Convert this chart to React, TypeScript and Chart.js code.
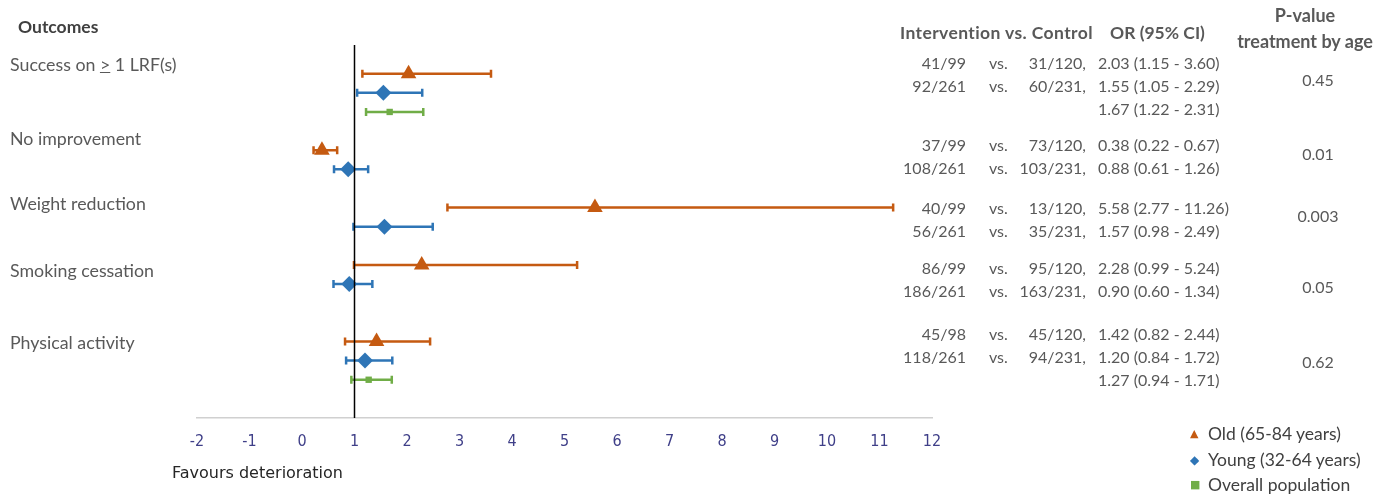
import React, { useEffect, useRef } from "react";
import { Chart, registerables } from "chart.js";

Chart.register(...registerables);

// ---------- data ----------
const outcomes = ["Success on ≥ 1 LRF(s)", "No improvement", "Weight reduction", "Smoking cessation", "Physical activity"];
const seriesNames = ["Old (65-84 years)", "Young (32-64 years)", "Overall population"];

const oldOR = [2.03, 0.38, 5.58, 2.28, 1.42];
const oldLo = [1.15, 0.22, 2.77, 0.99, 0.82];
const oldHi = [3.6, 0.67, 11.26, 5.24, 2.44];
const oldRow = [0, 4, 7, 10, 14];

const youngOR = [1.55, 0.88, 1.57, 0.9, 1.2];
const youngLo = [1.05, 0.61, 0.98, 0.6, 0.84];
const youngHi = [2.29, 1.26, 2.49, 1.34, 1.72];
const youngRow = [1, 5, 8, 11, 15];

const overallOR = [1.67, 1.27];
const overallLo = [1.22, 0.94];
const overallHi = [2.31, 1.71];
const overallRow = [2, 16];
const overallOutcome = [0, 4];

const intervOld = ["41/99", "37/99", "40/99", "86/99", "45/98"];
const ctrlOld = ["31/120", "73/120", "13/120", "95/120", "45/120"];
const intervYoung = ["92/261", "108/261", "56/261", "186/261", "118/261"];
const ctrlYoung = ["60/231", "103/231", "35/231", "163/231", "94/231"];
const pValues = ["0.45", "0.01", "0.003", "0.05", "0.62"];

const xTickMin = -2;
const xTickMax = 12;
const referenceLine = 1;

// ---------- styles ----------
const ORANGE = "#C55A11";
const BLUE = "#2E75B6";
const GREEN = "#70AD47";
const TEXT = "#595959";
const FONT = "Lato, 'Open Sans', sans-serif";
const TICKFONT = "'DejaVu Sans Condensed', 'DejaVu Sans', sans-serif";

const fmt = (v: number) => v.toFixed(2);
const orText = (o: number, l: number, h: number) => `${fmt(o)} (${fmt(l)} - ${fmt(h)})`;

const errorBarPlugin = {
  id: "errorBars",
  beforeDatasetsDraw(chart: any) {
    const ctx = chart.ctx;
    const xs = chart.scales.x;
    const ys = chart.scales.y;
    chart.data.datasets.forEach((ds: any) => {
      ctx.save();
      ctx.strokeStyle = ds.borderColor;
      ctx.lineWidth = 2.5;
      ds.data.forEach((p: any) => {
        const y = ys.getPixelForValue(p.y);
        const x1 = xs.getPixelForValue(p.lo);
        const x2 = xs.getPixelForValue(p.hi);
        ctx.beginPath();
        ctx.moveTo(x1, y);
        ctx.lineTo(x2, y);
        ctx.moveTo(x1, y - 4);
        ctx.lineTo(x1, y + 4);
        ctx.moveTo(x2, y - 4);
        ctx.lineTo(x2, y + 4);
        ctx.stroke();
      });
      ctx.restore();
    });
  },
  afterDatasetsDraw(chart: any) {
    const ctx = chart.ctx;
    const xs = chart.scales.x;
    const { top, bottom } = chart.chartArea;
    const x = xs.getPixelForValue(referenceLine);
    ctx.save();
    ctx.strokeStyle = "#000";
    ctx.lineWidth = 1.5;
    ctx.beginPath();
    ctx.moveTo(x, top);
    ctx.lineTo(x, bottom);
    ctx.stroke();
    ctx.restore();
  },
};

const abs = (left: number, cy: number, extra: React.CSSProperties = {}): React.CSSProperties => ({
  position: "absolute",
  left,
  top: cy - 12,
  height: 24,
  lineHeight: "24px",
  whiteSpace: "nowrap",
  fontFamily: FONT,
  color: TEXT,
  fontSize: 16,
  ...extra,
});

export default function App() {
  const ref = useRef<HTMLCanvasElement>(null);

  useEffect(() => {
    if (!ref.current) return;
    const mk = (or: number[], lo: number[], hi: number[], row: number[]) =>
      or.map((v, i) => ({ x: v, y: row[i], lo: lo[i], hi: hi[i] }));
    const chart = new Chart(ref.current, {
      type: "scatter",
      data: {
        datasets: [
          {
            label: seriesNames[0],
            data: mk(oldOR, oldLo, oldHi, oldRow),
            backgroundColor: ORANGE,
            borderColor: ORANGE,
            pointStyle: "triangle",
            pointRadius: 9,
            pointBorderWidth: 0,
          },
          {
            label: seriesNames[1],
            data: mk(youngOR, youngLo, youngHi, youngRow),
            backgroundColor: BLUE,
            borderColor: BLUE,
            pointStyle: "rectRot",
            pointRadius: 8,
            pointBorderWidth: 0,
          },
          {
            label: seriesNames[2],
            data: mk(overallOR, overallLo, overallHi, overallRow),
            backgroundColor: GREEN,
            borderColor: GREEN,
            pointStyle: "rect",
            pointRadius: 4.5,
            pointBorderWidth: 0,
          },
        ] as any,
      },
      options: {
        animation: false,
        responsive: false,
        devicePixelRatio: 1,
        layout: { padding: { left: 197, right: 454, top: 45, bottom: 46 } },
        plugins: { legend: { display: false }, tooltip: { enabled: false } },
        scales: {
          x: {
            type: "linear",
            min: xTickMin,
            max: xTickMax,
            grid: { display: false, drawTicks: false },
            border: { display: true, color: "#d0d0d0", width: 1.5 },
            ticks: {
              stepSize: 1,
              padding: 14,
              color: "#3f3f88",
              font: { family: TICKFONT, size: 16 },
            },
            afterFit: (scale: any) => {
              scale.height = 32;
            },
          },
          y: {
            type: "linear",
            min: -1.5,
            max: 18,
            reverse: true,
            display: false,
          },
        },
      },
      plugins: [errorBarPlugin],
    });
    return () => chart.destroy();
  }, []);

  const labelY = [64, 138, 203, 270, 342];
  const blockY = [63, 145, 208, 268, 334];
  const pY = [80, 154, 216, 287, 362];
  const lh = 23;

  const rows: React.ReactNode[] = [];
  outcomes.forEach((_, i) => {
    const y0 = blockY[i];
    const y1 = y0 + lh;
    rows.push(
      <div key={`io${i}`} style={abs(866, y0, { width: 100, textAlign: "right" })}>{intervOld[i]}</div>,
      <div key={`vo${i}`} style={abs(989, y0)}>vs.</div>,
      <div key={`co${i}`} style={abs(986, y0, { width: 100, textAlign: "right" })}>{ctrlOld[i]},</div>,
      <div key={`oo${i}`} style={abs(1098, y0)}>{orText(oldOR[i], oldLo[i], oldHi[i])}</div>,
      <div key={`iy${i}`} style={abs(866, y1, { width: 100, textAlign: "right" })}>{intervYoung[i]}</div>,
      <div key={`vy${i}`} style={abs(989, y1)}>vs.</div>,
      <div key={`cy${i}`} style={abs(986, y1, { width: 100, textAlign: "right" })}>{ctrlYoung[i]},</div>,
      <div key={`oy${i}`} style={abs(1098, y1)}>{orText(youngOR[i], youngLo[i], youngHi[i])}</div>,
      <div key={`p${i}`} style={abs(1268, pY[i], { width: 100, textAlign: "center" })}>{pValues[i]}</div>
    );
    const k = overallOutcome.indexOf(i);
    if (k >= 0) {
      rows.push(
        <div key={`ov${i}`} style={abs(1098, y1 + lh)}>{orText(overallOR[k], overallLo[k], overallHi[k])}</div>
      );
    }
  });

  const legendMarks = [
    { ch: "▲", color: ORANGE, size: 11 },
    { ch: "◆", color: BLUE, size: 12 },
    { ch: "■", color: GREEN, size: 11 },
  ];
  const legendY = [434, 460, 485];

  return (
    <div style={{ position: "absolute", left: 0, top: 0, width: 1386, height: 496, background: "#fff", overflow: "hidden" }}>
      <canvas ref={ref} width={1386} height={496} style={{ position: "absolute", left: 0, top: 0 }} />
      <div style={abs(18, 27, { fontWeight: 700, color: "#404040", fontSize: 17.5 })}>Outcomes</div>
      {outcomes.map((o, i) => (
        <div key={`l${i}`} style={abs(10, labelY[i], { fontSize: 17.8 })}>
          {i === 0 ? (
            <>
              Success on <span style={{ textDecoration: "underline" }}>&gt;</span> 1 LRF(s)
            </>
          ) : (
            o
          )}
        </div>
      ))}
      <div style={abs(900, 33, { fontWeight: 700, fontSize: 17.5, letterSpacing: 0.4 })}>Intervention vs. Control</div>
      <div style={abs(1110, 33, { fontWeight: 700, fontSize: 17.5 })}>OR (95% CI)</div>
      <div style={abs(1225, 15, { fontWeight: 700, fontSize: 18, width: 160, textAlign: "center" })}>P-value</div>
      <div style={abs(1225, 41, { fontWeight: 700, fontSize: 18, width: 160, textAlign: "center" })}>treatment by age</div>
      {rows}
      {seriesNames.map((s, i) => (
        <React.Fragment key={`lg${i}`}>
          <div style={abs(1190, legendY[i], { color: legendMarks[i].color, fontSize: legendMarks[i].size, fontFamily: "'DejaVu Sans', sans-serif" })}>
            {legendMarks[i].ch}
          </div>
          <div style={abs(1208, legendY[i], { color: "#404040", fontSize: 17.5 })}>{s}</div>
        </React.Fragment>
      ))}
      <div style={abs(172, 473, { color: "#262626", fontSize: 16, fontFamily: "'DejaVu Sans', sans-serif" })}>
        Favours deterioration
      </div>
    </div>
  );
}
